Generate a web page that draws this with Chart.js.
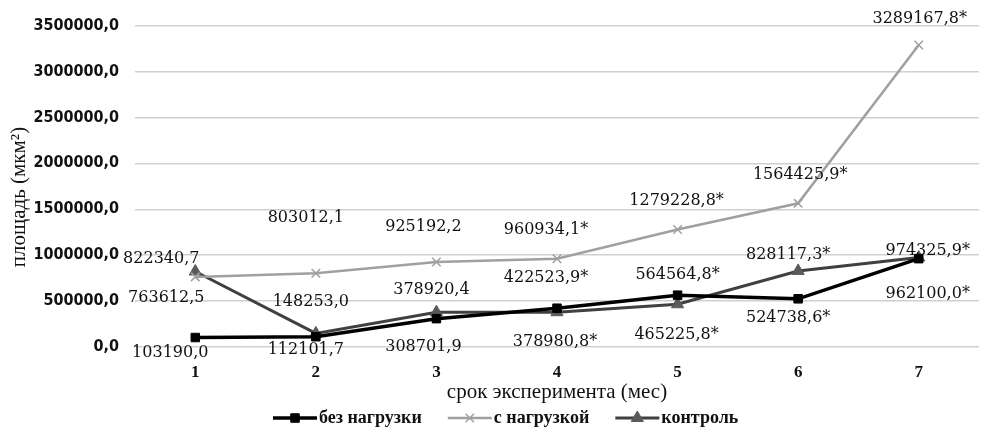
<!DOCTYPE html>
<html>
<head>
<meta charset="utf-8">
<script src="https://cdn.jsdelivr.net/npm/chart.js@4/dist/chart.umd.min.js"></script>
<style>
  html, body { margin: 0; padding: 0; background: #fff; }
  #wrap { width: 987px; height: 430px; }
</style>
</head>
<body>
<div id="wrap"><canvas id="c" width="987" height="430"></canvas></div>
<script>
// Months of the experiment
const months = ['1', '2', '3', '4', '5', '6', '7'];

// Area, µm²
const noLoad   = [103190.0, 112101.7, 308701.9, 422523.9, 564564.8, 524738.6, 962100.0];
const withLoad = [763612.5, 803012.1, 925192.2, 960934.1, 1279228.8, 1564425.9, 3289167.8];
const control  = [822340.7, 148253.0, 378920.4, 378980.8, 465225.8, 828117.3, 974325.9];

// Significance marks (*) per value
const noLoadSig   = [false, false, false, true, true, true, true];
const withLoadSig = [false, false, false, true, true, true, true];
const controlSig  = [false, false, false, true, true, true, true];

// Y axis ticks
const yTicks = [0, 500000, 1000000, 1500000, 2000000, 2500000, 3000000, 3500000];

// Axis titles
const xTitle = 'срок эксперимента (мес)';
const yTitle = 'площадь (мкм²)';

// Label placement around each point [dx, dy] in pixels
const labelOffsets = [
  [[-25, 15], [-10, 13], [-13, 28], [-11, -30], [0, -20], [-10, 19], [9, 35]],
  [[-29, 21], [-10, -55], [-13, -35], [-11, -29], [-1, -29], [2, -28], [1, -26]],
  [[-34, -13], [-5, -32], [-5, -22], [-2, 30], [-1, 31], [-10, -16], [9, -7]]
];

const fmt = v => v.toFixed(1).replace('.', ',');

const valueLabels = {
  id: 'valueLabels',
  afterDatasetsDraw(chart) {
    const ctx = chart.ctx;
    ctx.save();
    ctx.font = '16px "DejaVu Serif"';
    ctx.fillStyle = '#111';
    ctx.textAlign = 'center';
    ctx.textBaseline = 'middle';
    chart.data.datasets.forEach((ds, i) => {
      const meta = chart.getDatasetMeta(i);
      meta.data.forEach((pt, j) => {
        const off = labelOffsets[i][j];
        const txt = fmt(ds.data[j]) + (ds.sig[j] ? '*' : '');
        ctx.fillText(txt, pt.x + off[0], pt.y + off[1]);
      });
    });
    ctx.restore();
  }
};

// Vertical axis title, placed beside the tick column
const yTitlePlugin = {
  id: 'yTitlePlugin',
  afterDraw(chart) {
    const ctx = chart.ctx;
    ctx.save();
    ctx.translate(19, 197);
    ctx.rotate(-Math.PI / 2);
    ctx.font = '21px "Liberation Serif"';
    ctx.fillStyle = '#111';
    ctx.textAlign = 'center';
    ctx.textBaseline = 'middle';
    ctx.fillText(yTitle, 0, 0);
    ctx.restore();
  }
};

// Legend drawn as line + marker + text
const lineLegend = {
  id: 'lineLegend',
  afterDraw(chart) {
    const ctx = chart.ctx;
    const lineLen = 44, gapText = 2, gapItem = 26;
    const cy = 418;
    ctx.save();
    ctx.font = 'bold 18px "Liberation Serif"';
    ctx.textBaseline = 'middle';
    let x = 273;
    chart.data.datasets.forEach(ds => {
      ctx.strokeStyle = ds.borderColor;
      ctx.lineWidth = ds.borderWidth;
      ctx.beginPath();
      ctx.moveTo(x, cy);
      ctx.lineTo(x + lineLen, cy);
      ctx.stroke();
      ctx.save();
      ctx.fillStyle = ds.pointBackgroundColor;
      ctx.strokeStyle = ds.pointBorderColor;
      ctx.lineWidth = ds.pointBorderWidth;
      Chart.helpers.drawPoint(ctx, {
        pointStyle: ds.pointStyle,
        radius: ds.pointRadius,
        borderWidth: ds.pointBorderWidth
      }, x + lineLen / 2, cy);
      ctx.restore();
      ctx.fillStyle = '#111';
      ctx.fillText(ds.label, x + lineLen + gapText, cy);
      x += lineLen + gapText + ctx.measureText(ds.label).width + gapItem;
    });
    ctx.restore();
  }
};

const whiteBg = {
  id: 'whiteBg',
  beforeDraw(chart) {
    const ctx = chart.ctx;
    ctx.save();
    ctx.fillStyle = '#fff';
    ctx.fillRect(0, 0, chart.width, chart.height);
    ctx.restore();
  }
};

new Chart(document.getElementById('c'), {
  type: 'line',
  data: {
    labels: months,
    datasets: [
      {
        label: 'без нагрузки',
        data: noLoad,
        sig: noLoadSig,
        borderColor: '#000000',
        backgroundColor: '#000000',
        borderWidth: 3.5,
        pointStyle: 'rect',
        pointRadius: 6,
        pointBorderWidth: 1,
        pointBackgroundColor: '#000000',
        pointBorderColor: '#000000',
        tension: 0
      },
      {
        label: 'с нагрузкой',
        data: withLoad,
        sig: withLoadSig,
        borderColor: '#a0a0a0',
        backgroundColor: '#a0a0a0',
        borderWidth: 2.5,
        pointStyle: 'crossRot',
        pointRadius: 6,
        pointBorderWidth: 1.5,
        pointBackgroundColor: '#a0a0a0',
        pointBorderColor: '#a0a0a0',
        tension: 0
      },
      {
        label: 'контроль',
        data: control,
        sig: controlSig,
        borderColor: '#404040',
        backgroundColor: '#5a5a5a',
        borderWidth: 3,
        pointStyle: 'triangle',
        pointRadius: 7,
        pointBorderWidth: 1,
        pointBackgroundColor: '#5a5a5a',
        pointBorderColor: '#5a5a5a',
        tension: 0
      }
    ]
  },
  options: {
    responsive: false,
    animation: false,
    devicePixelRatio: 1,
    layout: { padding: { left: 4, right: 5, top: 25, bottom: 23 } },
    plugins: {
      legend: { display: false },
      tooltip: { enabled: false }
    },
    scales: {
      x: {
        offset: true,
        grid: { display: false, drawTicks: false },
        border: { display: false },
        ticks: {
          padding: 15,
          color: '#111',
          font: { family: '"Liberation Serif"', size: 17, weight: 'bold' }
        },
        title: {
          display: true,
          text: xTitle,
          color: '#111',
          font: { family: '"Liberation Serif"', size: 21 },
          padding: { top: 0, bottom: 2 }
        },
        afterFit(scale) { scale.height = 60; }
      },
      y: {
        min: 0,
        max: 3500000,
        afterBuildTicks(scale) { scale.ticks = yTicks.map(v => ({ value: v })); },
        grid: { color: '#d0d0d0', lineWidth: 1.5, drawTicks: false },
        border: { display: false },
        ticks: {
          padding: 16,
          color: '#111',
          font: { family: '"DejaVu Sans Condensed"', size: 16, weight: 'bold' },
          callback: v => fmt(v)
        },
        title: { display: false },
        afterFit(scale) { scale.width = 131; }
      }
    }
  },
  plugins: [whiteBg, valueLabels, yTitlePlugin, lineLegend]
});
</script>
</body>
</html>
